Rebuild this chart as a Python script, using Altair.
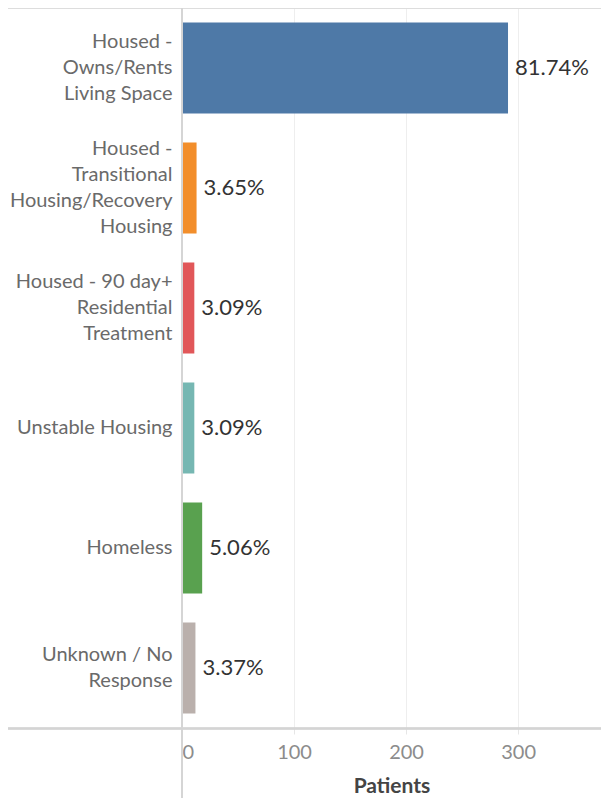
import altair as alt
import pandas as pd

categories = [
    "Housed -|Owns/Rents|Living Space",
    "Housed -|Transitional|Housing/Recovery|Housing",
    "Housed - 90 day+|Residential|Treatment",
    "Unstable Housing",
    "Homeless",
    "Unknown / No|Response",
]
patients = [291, 13, 11, 11, 18, 12]
colors = ["#4e79a7", "#f28e2b", "#e15759", "#76b7b2", "#59a14f", "#bab0ac"]
x_ticks = [0, 100, 200, 300]

df = pd.DataFrame({"cat": categories, "patients": patients})

FONT = "Lato"
W, H = 419, 720
LEFT = 174
BOTTOM = 70
LH = 26

nlines = "length(split(datum.value, '|'))"
label_offset = {
    "condition": [
        {"test": f"{nlines} == 2", "value": -LH / 2},
        {"test": f"{nlines} == 3", "value": -LH},
        {"test": f"{nlines} == 4", "value": -LH * 1.5},
    ],
    "value": 0,
}

y_enc = alt.Y(
    "cat:N",
    sort=categories,
    title=None,
    scale=alt.Scale(paddingInner=0.24, paddingOuter=0.12),
    axis=alt.Axis(
        labelExpr="split(datum.label, '|')",
        labelFont=FONT,
        labelFontSize=20,
        labelColor="#6a6a6a",
        labelLineHeight=LH,
        labelBaseline="middle",
        labelOffset=label_offset,
        labelPadding=10,
        ticks=False,
        domain=False,
        labelLimit=200,
    ),
)

x_enc = alt.X(
    "patients:Q",
    title="Patients",
    scale=alt.Scale(domain=[0, 374], nice=False),
    axis=alt.Axis(
        values=x_ticks,
        labelFont=FONT,
        labelFontSize=20,
        labelColor="#8c8c8c",
        labelFlush=True,
        labelPadding=8,
        tickSize=6,
        tickColor="#e6e6e6",
        gridColor="#eeeeee",
        domain=False,
        titleFont=FONT,
        titleFontSize=21,
        titleFontWeight="bold",
        titleColor="#444444",
        titlePadding=13,
    ),
)

base = alt.Chart(df)

bars = base.mark_bar().encode(
    y=y_enc,
    x=x_enc,
    color=alt.Color("cat:N", scale=alt.Scale(domain=categories, range=colors), legend=None),
)

labels = base.transform_joinaggregate(total="sum(patients)").transform_calculate(
    pct="datum.patients / datum.total"
).mark_text(align="left", baseline="middle", dx=7, font=FONT, fontSize=22, color="#333333").encode(
    y=alt.Y("cat:N", sort=categories),
    x=alt.X("patients:Q"),
    text=alt.Text("pct:Q", format=".2%"),
)

line_color = "#d4d4d4"
top_line = alt.Chart(df).mark_rule(color="#dddddd", strokeWidth=1.5).encode(
    x=alt.value(-LEFT), x2=alt.value(W), y=alt.value(0)
)
bottom_line = alt.Chart(df).mark_rule(color=line_color, strokeWidth=1.5).encode(
    x=alt.value(-LEFT), x2=alt.value(W), y=alt.value(H + 0.5)
)
zero_line = alt.Chart(df).mark_rule(color=line_color, strokeWidth=1.5).encode(
    x=alt.value(0), y=alt.value(0), y2=alt.value(H + BOTTOM)
)

chart = alt.layer(bars, labels, top_line, bottom_line, zero_line).properties(
    width=W,
    height=H,
    autosize=alt.AutoSizeParams(type="none"),
    padding={"left": LEFT, "top": 0, "right": 0, "bottom": BOTTOM},
).configure_view(stroke=None).configure(background="white")

chart.save("out.html", embed_options={"renderer": "svg", "actions": False})
